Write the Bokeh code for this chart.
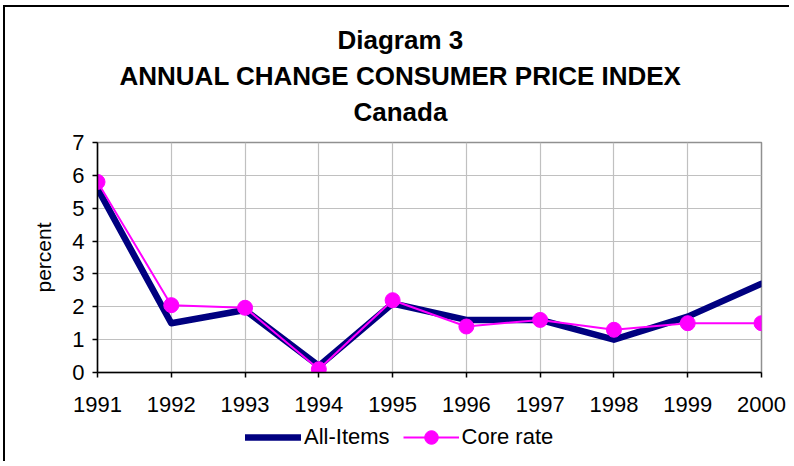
from bokeh.plotting import figure
from bokeh.layouts import column
from bokeh.models import FixedTicker, Legend, LegendItem, Title
from bokeh.embed import file_html
from bokeh.resources import INLINE

# ---- data ----
years = [1991, 1992, 1993, 1994, 1995, 1996, 1997, 1998, 1999, 2000]
all_items = [5.6, 1.5, 1.9, 0.2, 2.1, 1.6, 1.6, 1.0, 1.7, 2.7]
core_rate = [5.8, 2.05, 1.97, 0.1, 2.2, 1.4, 1.6, 1.3, 1.5, 1.5]
y_ticks = [0, 1, 2, 3, 4, 5, 6, 7]
title_lines = ["Diagram 3", "ANNUAL CHANGE CONSUMER PRICE INDEX", "Canada"]
series_names = ["All-Items", "Core rate"]
y_label = "percent"

FONT = "Liberation Sans"
NAVY = "#000080"
MAGENTA = "#FF00FF"

# main chart: canvas origin on the page at (5, 7)
p = figure(width=786, height=413, output_backend="svg", toolbar_location=None,
           x_range=(years[0], years[-1]), y_range=(y_ticks[0], y_ticks[-1]),
           min_border_left=92, min_border_right=30, min_border_top=133,
           min_border_bottom=48)

p.background_fill_color = "white"
p.border_fill_color = "white"
p.outline_line_color = "#909090"
p.outline_line_width = 1.5

# axes
p.xaxis.ticker = FixedTicker(ticks=years)
p.yaxis.ticker = FixedTicker(ticks=y_ticks)
for ax in (p.xaxis[0], p.yaxis[0]):
    ax.axis_line_color = "black"
    ax.axis_line_width = 1.5
    ax.major_tick_line_color = "black"
    ax.major_tick_line_width = 1.5
    ax.major_tick_in = 0
    ax.major_tick_out = 5
    ax.minor_tick_line_color = None
    ax.major_label_text_font = FONT
    ax.major_label_text_font_size = "22px"
    ax.major_label_text_color = "black"
p.xaxis.major_label_standoff = 19
p.yaxis.major_label_standoff = 8
p.yaxis.axis_label = y_label
p.yaxis.axis_label_text_font = FONT
p.yaxis.axis_label_text_font_size = "21px"
p.yaxis.axis_label_text_font_style = "normal"
p.yaxis.axis_label_text_color = "black"
p.yaxis.axis_label_standoff = 14

p.xgrid.ticker = FixedTicker(ticks=years)
p.ygrid.ticker = FixedTicker(ticks=y_ticks)
p.xgrid.grid_line_color = "#C0C0C0"
p.ygrid.grid_line_color = "#C0C0C0"
p.xgrid.grid_line_width = 1.2
p.ygrid.grid_line_width = 1.2

# series
p.line(years, all_items, line_color=NAVY, line_width=6.5,
       line_join="round", line_cap="round")
p.line(years, core_rate, line_color=MAGENTA, line_width=2)
p.scatter(years, core_rate, marker="circle", size=15,
          fill_color=MAGENTA, line_color=MAGENTA)

# titles (first added sits closest to the plot)
title_offsets = [240, 22, 256]
title_standoffs = [31, -23, 31]
for text, off, so in reversed(list(zip(title_lines, title_offsets, title_standoffs))):
    p.add_layout(Title(text=text, align="left", offset=off, standoff=so,
                       text_font=FONT, text_font_size="26px",
                       text_font_style="bold", text_color="black"), "above")

# legend strip below the chart; its series sit outside its view, only the key shows
q = figure(width=786, height=43, output_backend="svg", toolbar_location=None,
           x_range=(0, 1), y_range=(0, 1), x_axis_type=None, y_axis_type=None,
           min_border=0)
q.grid.visible = False
q.outline_line_color = None
q.background_fill_color = "white"
q.border_fill_color = "white"
k_all = q.line(years, all_items, line_color=NAVY, line_width=6.5, line_cap="round")
k_core_l = q.line(years, core_rate, line_color=MAGENTA, line_width=2)
k_core_c = q.scatter(years, core_rate, marker="circle", size=15,
                     fill_color=MAGENTA, line_color=MAGENTA)
legend = Legend(items=[LegendItem(label=series_names[0], renderers=[k_all]),
                       LegendItem(label=series_names[1], renderers=[k_core_l, k_core_c])],
                location=(148, 9), orientation="horizontal",
                label_text_font=FONT, label_text_font_size="22px",
                label_text_color="black",
                glyph_width=56, glyph_height=34, label_standoff=3, spacing=13,
                padding=0, margin=0, border_line_color=None,
                background_fill_alpha=0)
q.add_layout(legend, "center")

layout = column(p, q, spacing=0,
                styles={"margin-left": "5px", "margin-top": "7px",
                        "box-shadow": "-2px -2px 0 0 black"})

open("out.html", "w").write(file_html(layout, INLINE))
